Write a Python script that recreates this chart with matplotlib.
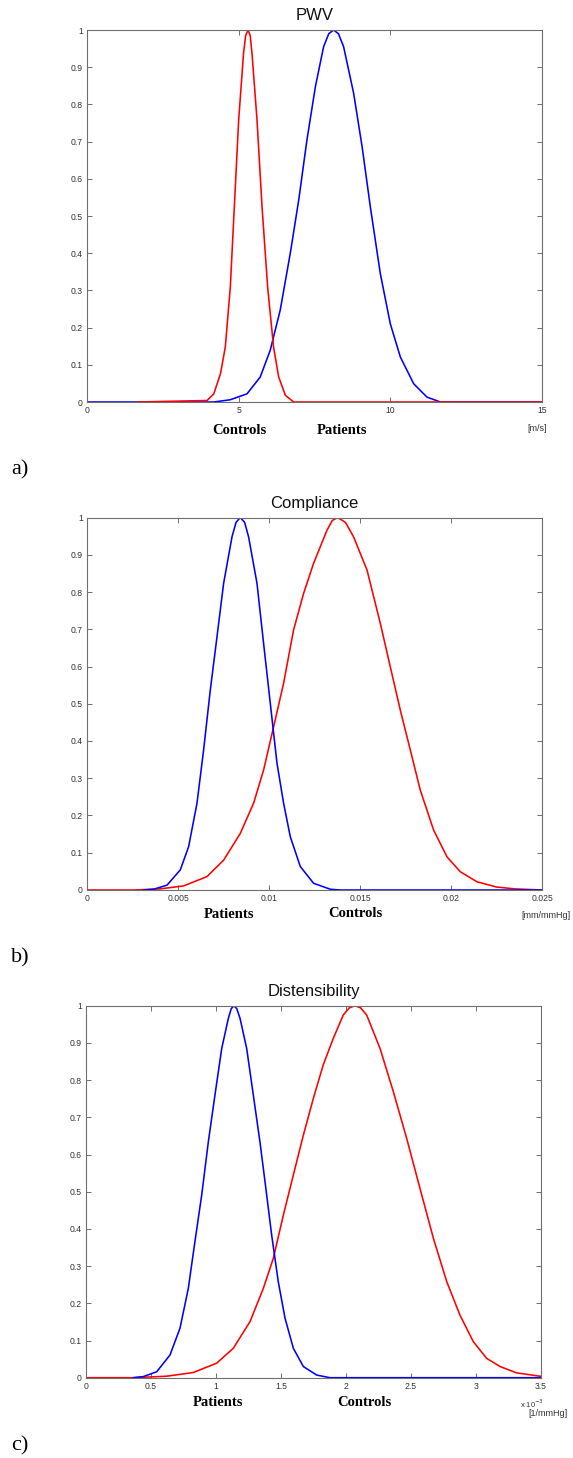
import matplotlib
matplotlib.use("Agg")
import matplotlib.pyplot as plt

# ---------------- data ----------------
# Panel a) PWV [m/s]
pwv_controls_x = [1.65, 3.96, 4.18, 4.40, 4.56, 4.725, 4.857, 5.00, 5.16, 5.23, 5.31,
                  5.38, 5.44, 5.605, 5.77, 5.955, 6.15, 6.32, 6.54, 6.81, 15.0]
pwv_controls_y = [0.0, 0.004, 0.022, 0.076, 0.148, 0.309, 0.525, 0.758, 0.937, 0.985, 1.0,
                  0.985, 0.937, 0.758, 0.525, 0.309, 0.148, 0.067, 0.018, 0.0, 0.0]
pwv_patients_x = [0.0, 4.18, 4.72, 5.275, 5.71, 6.04, 6.37, 6.70, 6.98, 7.25, 7.53, 7.80,
                  7.97, 8.13, 8.29, 8.46, 8.79, 9.07, 9.34, 9.67, 10.0, 10.33, 10.77, 11.21,
                  11.65, 15.0]
pwv_patients_y = [0.0, 0.0, 0.006, 0.022, 0.067, 0.139, 0.247, 0.399, 0.543, 0.704, 0.848, 0.955,
                  0.99, 1.0, 0.99, 0.955, 0.83, 0.686, 0.525, 0.345, 0.21, 0.121, 0.049, 0.013,
                  0.0, 0.0]

# Panel b) Compliance [mm/mmHg]
comp_patients_x = [0.00311, 0.003659, 0.004396, 0.005126, 0.005582, 0.006044, 0.006407,
                   0.006775, 0.007143, 0.007506, 0.007967, 0.00819, 0.008423, 0.00866,
                   0.008879, 0.009341, 0.009703, 0.010071, 0.01044, 0.010802, 0.01117,
                   0.01172, 0.01245, 0.01337, 0.01392, 0.025]
comp_patients_y = [0.0, 0.002, 0.013, 0.054, 0.116, 0.233, 0.376, 0.537, 0.680, 0.823,
                   0.948, 0.987, 1.0, 0.987, 0.948, 0.823, 0.662, 0.501, 0.340, 0.233,
                   0.143, 0.063, 0.018, 0.002, 0.0, 0.0]
comp_controls_x = [0.0, 0.00256, 0.004027, 0.005308, 0.006593, 0.007506, 0.008423, 0.009154,
                   0.009703, 0.010253, 0.010802, 0.01135, 0.0119, 0.01245, 0.013187, 0.01348,
                   0.013769, 0.01420, 0.014648, 0.015385, 0.016115, 0.016665, 0.017214,
                   0.017764, 0.018313, 0.019044, 0.01978, 0.020511, 0.021429, 0.0225, 0.0235,
                   0.025]
comp_controls_y = [0.0, 0.0, 0.003, 0.011, 0.036, 0.080, 0.152, 0.233, 0.322, 0.438, 0.555,
                   0.698, 0.796, 0.877, 0.966, 0.992, 1.0, 0.987, 0.948, 0.859, 0.716, 0.599,
                   0.483, 0.376, 0.268, 0.161, 0.089, 0.049, 0.022, 0.008, 0.003, 0.0]

# Panel c) Distensibility [1/mmHg], x values in units of 1e-3
dist_patients_x = [0.364, 0.441, 0.544, 0.646, 0.723, 0.787, 0.838, 0.890, 0.941, 0.992,
                   1.044, 1.095, 1.117, 1.138, 1.160, 1.185, 1.236, 1.287, 1.338, 1.377,
                   1.428, 1.479, 1.531, 1.595, 1.672, 1.775, 1.877, 3.5]
dist_patients_y = [0.0, 0.003, 0.016, 0.061, 0.133, 0.240, 0.366, 0.491, 0.634, 0.760,
                   0.885, 0.966, 0.992, 1.0, 0.992, 0.966, 0.885, 0.760, 0.634, 0.527,
                   0.384, 0.258, 0.160, 0.079, 0.030, 0.007, 0.0, 0.0]
dist_controls_x = [0.0, 0.364, 0.621, 0.826, 1.005, 1.133, 1.262, 1.364, 1.441, 1.518, 1.595,
                   1.672, 1.749, 1.825, 1.902, 1.979, 2.025, 2.069, 2.113, 2.159, 2.262, 2.364,
                   2.467, 2.569, 2.672, 2.775, 2.877, 2.979, 3.082, 3.185, 3.313, 3.492, 3.5]
dist_controls_y = [0.0, 0.0, 0.004, 0.014, 0.039, 0.079, 0.151, 0.240, 0.321, 0.437, 0.545,
                   0.652, 0.751, 0.841, 0.912, 0.975, 0.994, 1.0, 0.994, 0.975, 0.885, 0.769,
                   0.643, 0.509, 0.375, 0.258, 0.168, 0.097, 0.052, 0.030, 0.013, 0.004, 0.004]

titles = ["PWV", "Compliance", "Distensibility"]
y_ticks = [0, 0.1, 0.2, 0.3, 0.4, 0.5, 0.6, 0.7, 0.8, 0.9, 1]
y_ticklabels = ["0", "0.1", "0.2", "0.3", "0.4", "0.5", "0.6", "0.7", "0.8", "0.9", "1"]
pwv_xticks = [0, 5, 10, 15]
pwv_xticklabels = ["0", "5", "10", "15"]
comp_xticks = [0, 0.005, 0.01, 0.015, 0.02, 0.025]
comp_xticklabels = ["0", "0.005", "0.01", "0.015", "0.02", "0.025"]
dist_xticks = [0, 0.5, 1, 1.5, 2, 2.5, 3, 3.5]
dist_xticklabels = ["0", "0.5", "1", "1.5", "2", "2.5", "3", "3.5"]
panel_letters = ["a)", "b)", "c)"]

# ---------------- figure ----------------
W, H = 573, 1458
fig = plt.figure(figsize=(W / 100, H / 100), dpi=100)
fig.patch.set_facecolor("white")

def fx(px):
    return px / W

def fy(py):
    return 1 - py / H

axes_px = [(87, 542, 30, 402), (87, 542, 517.5, 890), (86, 541, 1005.7, 1377.7)]
RED = "#ff0000"
BLUE = "#0000ff"
SANS = ["Liberation Sans", "DejaVu Sans"]
SERIF = ["Liberation Serif", "DejaVu Serif"]
spine_c = "#6e6e6e"
tick_c = "#333333"

panels = [
    dict(xlim=(0, 15), xt=pwv_xticks, xtl=pwv_xticklabels,
         lines=[(pwv_patients_x, pwv_patients_y, BLUE), (pwv_controls_x, pwv_controls_y, RED)]),
    dict(xlim=(0, 0.025), xt=comp_xticks, xtl=comp_xticklabels,
         lines=[(comp_controls_x, comp_controls_y, RED), (comp_patients_x, comp_patients_y, BLUE)]),
    dict(xlim=(0, 3.5), xt=dist_xticks, xtl=dist_xticklabels,
         lines=[(dist_controls_x, dist_controls_y, RED), (dist_patients_x, dist_patients_y, BLUE)]),
]

for i, p in enumerate(panels):
    l, r, t, b = axes_px[i]
    ax = fig.add_axes([fx(l), fy(b), fx(r - l), (b - t) / H])
    for xs, ys, c in p["lines"]:
        ax.plot(xs, ys, color=c, lw=1.15, solid_joinstyle="round")
    ax.set_xlim(*p["xlim"])
    ax.set_ylim(0, 1)
    ax.set_xticks(p["xt"])
    ax.set_xticklabels(p["xtl"])
    ax.set_yticks(y_ticks)
    ax.set_yticklabels(y_ticklabels)
    ax.tick_params(direction="in", length=3.5, width=0.7, colors=spine_c,
                   labelcolor=tick_c, labelsize=6.2, top=True, right=True, pad=3)
    for lab in ax.get_xticklabels() + ax.get_yticklabels():
        lab.set_family(SANS)
    for s in ax.spines.values():
        s.set_color(spine_c)
        s.set_linewidth(0.8)
    ax.set_title(titles[i], family=SANS, fontsize=12, color="#111111", pad=7)

def ftext(px, py, s, **kw):
    fig.text(fx(px), fy(py), s, **kw)

bold = dict(family=SERIF, fontsize=10.5, fontweight="bold", ha="center", va="center", color="black")
small = dict(family=SANS, fontsize=6.5, color=tick_c, va="center")

# Panel a labels
ftext(239, 431, "Controls", **bold)
ftext(341.7, 431, "Patients", **bold)
ftext(527, 428.5, "[m/s]", ha="left", **small)
# Panel b labels
ftext(228.7, 915, "Patients", **bold)
ftext(355.3, 913.3, "Controls", **bold)
ftext(571, 915, "[mm/mmHg]", ha="right", **small)
# Panel c labels
ftext(217.7, 1402.7, "Patients", **bold)
ftext(364, 1402, "Controls", **bold)
ftext(520, 1404, r"x 10$^{-3}$", ha="left", family=SANS, fontsize=5.5, color=tick_c, va="center")
ftext(568, 1414, "[1/mmHg]", ha="right", **small)

# panel letters
for letter, py in zip(panel_letters, [470, 958, 1446]):
    ftext(11, py, letter, family=SERIF, fontsize=16, ha="left", va="center", color="black")

fig.savefig("out.png", dpi=100, facecolor="white")
